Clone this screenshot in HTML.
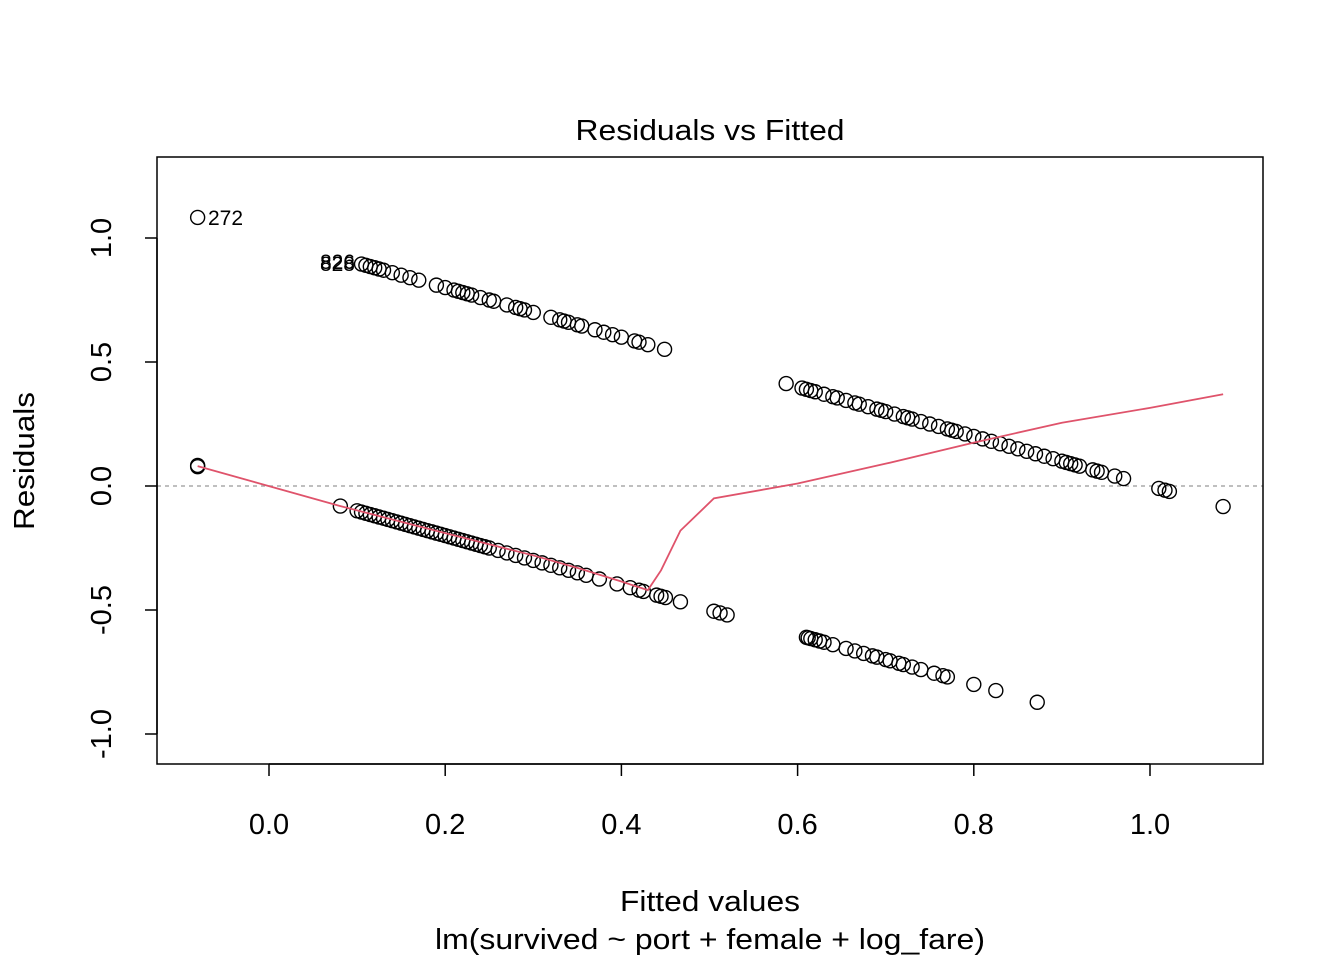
<!DOCTYPE html>
<html><head><meta charset="utf-8"><style>
html,body{margin:0;padding:0;background:#fff;}
svg{display:block;font-family:"Liberation Sans",Arial,sans-serif;}
</style></head><body>
<svg id="chart" width="1344" height="960" viewBox="0 0 1344 960">
<rect x="0" y="0" width="1344" height="960" fill="#fff"/>
<text x="710" y="140" font-size="29" text-anchor="middle" textLength="269" lengthAdjust="spacingAndGlyphs">Residuals vs Fitted</text>
<text x="710" y="911" font-size="29" text-anchor="middle" textLength="180" lengthAdjust="spacingAndGlyphs">Fitted values</text>
<text x="710" y="949" font-size="29" text-anchor="middle" textLength="550" lengthAdjust="spacingAndGlyphs">lm(survived ~ port + female + log_fare)</text>
<text transform="translate(34,461) rotate(-90)" font-size="29" text-anchor="middle" textLength="138" lengthAdjust="spacingAndGlyphs">Residuals</text>
<g id="grid"></g><g id="axes"></g><g id="pts"></g><g id="smooth"></g><g id="labels"></g>
<rect x="157" y="157" width="1106" height="607" fill="none" stroke="#000" stroke-width="1.5"/>
</svg>
<script>
const xTicks=[0.0,0.2,0.4,0.6,0.8,1.0];
const xTickLabels=["0.0","0.2","0.4","0.6","0.8","1.0"];
const yTicks=[-1.0,-0.5,0.0,0.5,1.0];
const yTickLabels=["-1.0","-0.5","0.0","0.5","1.0"];
const fittedA=[0.105,0.11,0.115,0.12,0.125,0.13,0.14,0.15,0.16,0.17,0.19,0.2,0.21,0.215,0.22,0.225,0.23,0.24,0.25,0.255,0.27,0.28,0.285,0.29,0.3,0.32,0.33,0.335,0.34,0.35,0.355,0.37,0.38,0.39,0.4,0.415,0.42,0.43,0.449];
const residA=[0.895,0.89,0.885,0.88,0.875,0.87,0.86,0.85,0.84,0.83,0.81,0.8,0.79,0.785,0.78,0.775,0.77,0.76,0.75,0.745,0.73,0.72,0.715,0.71,0.7,0.68,0.67,0.665,0.66,0.65,0.645,0.63,0.62,0.61,0.6,0.585,0.58,0.57,0.551];
const fittedB=[0.081,0.1,0.105,0.11,0.115,0.12,0.125,0.13,0.135,0.14,0.145,0.15,0.155,0.16,0.165,0.17,0.175,0.18,0.185,0.19,0.195,0.2,0.205,0.21,0.215,0.22,0.225,0.23,0.235,0.24,0.245,0.25,0.26,0.27,0.28,0.29,0.3,0.31,0.32,0.33,0.34,0.35,0.36,0.375,0.395,0.41,0.42,0.425,0.44,0.445,0.45,0.467,0.505,0.512,0.52];
const residB=[-0.081,-0.1,-0.105,-0.11,-0.115,-0.12,-0.125,-0.13,-0.135,-0.14,-0.145,-0.15,-0.155,-0.16,-0.165,-0.17,-0.175,-0.18,-0.185,-0.19,-0.195,-0.2,-0.205,-0.21,-0.215,-0.22,-0.225,-0.23,-0.235,-0.24,-0.245,-0.25,-0.26,-0.27,-0.28,-0.29,-0.3,-0.31,-0.32,-0.33,-0.34,-0.35,-0.36,-0.375,-0.395,-0.41,-0.42,-0.425,-0.44,-0.445,-0.45,-0.467,-0.505,-0.512,-0.52];
const fittedC=[0.587,0.605,0.61,0.615,0.62,0.63,0.64,0.645,0.655,0.665,0.67,0.68,0.69,0.695,0.7,0.71,0.72,0.725,0.73,0.74,0.75,0.76,0.77,0.775,0.78,0.79,0.8,0.81,0.82,0.83,0.84,0.85,0.86,0.87,0.88,0.89,0.9,0.905,0.91,0.915,0.92,0.935,0.94,0.945,0.96,0.97,1.01,1.017,1.022];
const residC=[0.413,0.395,0.39,0.385,0.38,0.37,0.36,0.355,0.345,0.335,0.33,0.32,0.31,0.305,0.3,0.29,0.28,0.275,0.27,0.26,0.25,0.24,0.23,0.225,0.22,0.21,0.2,0.19,0.18,0.17,0.16,0.15,0.14,0.13,0.12,0.11,0.1,0.095,0.09,0.085,0.08,0.065,0.06,0.055,0.04,0.03,-0.01,-0.017,-0.022];
const fittedD=[0.61,0.612,0.615,0.62,0.625,0.63,0.64,0.655,0.665,0.675,0.685,0.69,0.7,0.705,0.715,0.72,0.73,0.74,0.755,0.765,0.77,0.8,0.825,0.872];
const residD=[-0.61,-0.612,-0.615,-0.62,-0.625,-0.63,-0.64,-0.655,-0.665,-0.675,-0.685,-0.69,-0.7,-0.705,-0.715,-0.72,-0.73,-0.74,-0.755,-0.765,-0.77,-0.8,-0.825,-0.872];
const fittedE=[-0.081,-0.081,-0.081,1.083];
const residE=[1.083,0.083,0.078,-0.083];
const smoothX=[-0.081,0.08,0.2,0.3,0.35,0.4,0.43,0.445,0.467,0.505,0.6,0.7,0.8,0.9,1.0,1.083];
const smoothY=[0.08,-0.08,-0.19,-0.28,-0.33,-0.385,-0.42,-0.34,-0.18,-0.05,0.01,0.09,0.175,0.255,0.315,0.37];

const NS="http://www.w3.org/2000/svg";
const sx=v=>269+v*881;
const sy=v=>486-v*248;
function mk(tag,attrs,parent){const e=document.createElementNS(NS,tag);for(const k in attrs)e.setAttribute(k,attrs[k]);parent.appendChild(e);return e;}
const axes=document.getElementById('axes');
const zl=mk('line',{x1:157,x2:1263,y1:sy(0),y2:sy(0),stroke:'#aaa','stroke-width':1.5,'stroke-dasharray':'4,4'},document.getElementById('grid'));


const xa=mk('line',{x1:sx(0),x2:sx(1),y1:764,y2:764,stroke:'#000','stroke-width':1.5},axes);


xTicks.forEach((t,i)=>{
  const l=mk('line',{x1:sx(t),x2:sx(t),y1:764,y2:776,stroke:'#000','stroke-width':1.5},axes);
  
  
  const tx=mk('text',{x:sx(t),y:834,'font-size':29,'text-anchor':'middle'},axes);
  tx.textContent=xTickLabels[i];
  
  
});
const ya=mk('line',{x1:157,x2:157,y1:sy(-1),y2:sy(1),stroke:'#000','stroke-width':1.5},axes);


yTicks.forEach((t,i)=>{
  const l=mk('line',{x1:145,x2:157,y1:sy(t),y2:sy(t),stroke:'#000','stroke-width':1.5},axes);
  
  
  const tx=mk('text',{transform:`translate(111,${sy(t)}) rotate(-90)`,'font-size':29,'text-anchor':'middle'},axes);
  tx.textContent=yTickLabels[i];
  
  
});
const pts=document.getElementById('pts');
[[fittedA,residA],[fittedB,residB],[fittedC,residC],[fittedD,residD],[fittedE,residE]].forEach(([fx,ry])=>{
  fx.forEach((f,i)=>{
    const c=mk('circle',{cx:sx(f),cy:sy(ry[i]),r:7,fill:'none',stroke:'#000','stroke-width':1.4},pts);
    
    
  });
});
const p=mk('polyline',{points:smoothX.map((x,i)=>sx(x)+','+sy(smoothY[i])).join(' '),fill:'none',stroke:'#DF536B','stroke-width':1.8},document.getElementById('smooth'));


const lab=document.getElementById('labels');
[["272",208,225,'start'],["828",355,271,'end'],["826",355,269,'end']].forEach(([t,x,y,a])=>{
  const e=mk('text',{x:x,y:y,'font-size':21,'text-anchor':a},lab);
  e.textContent=t;
  
  
});
</script>
</body></html>
